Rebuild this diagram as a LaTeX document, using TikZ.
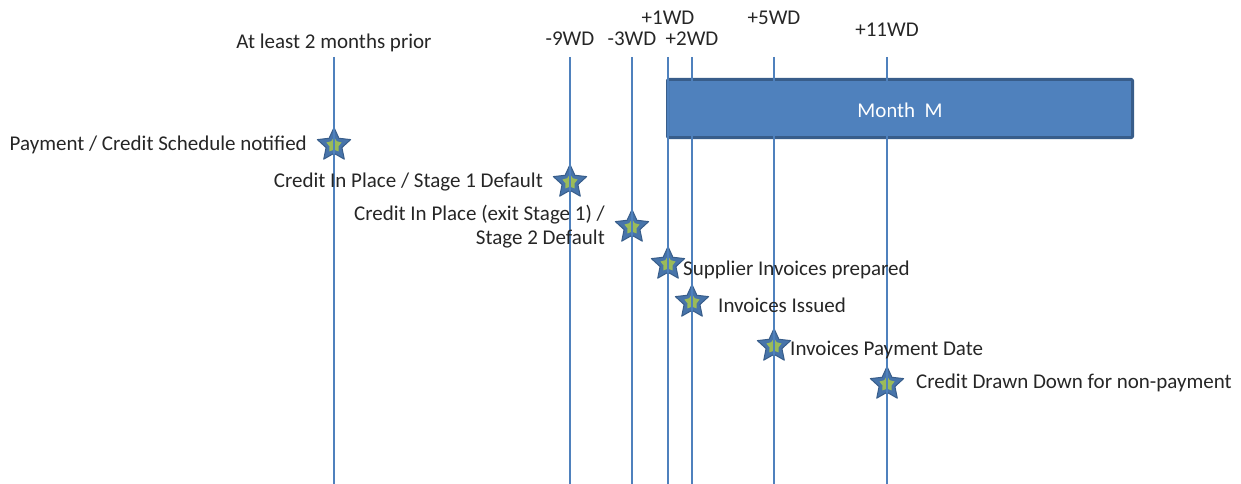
\documentclass[tikz,border=0pt]{standalone}
\usepackage{fontspec}
\setmainfont{Carlito}
\usetikzlibrary{shapes.geometric}
\definecolor{lineblue}{HTML}{4F81BD}
\definecolor{darkblue}{HTML}{385D8A}
\definecolor{stargreen}{HTML}{9BBB59}
\tikzset{
	vline/.style={lineblue,line width=1.6pt},
	wdlabel/.style={font=\fontsize{21}{24}\selectfont,text=black!85,inner sep=0pt},
	evlabel/.style={font=\fontsize{21}{24}\selectfont,text=black!85,inner sep=0pt,align=right},
	evstar/.style={star,star points=5,star point ratio=2.1,minimum size=35pt,inner sep=0pt,fill=lineblue!90!black,draw=darkblue,line width=1pt},
	evcore/.style={star,star points=5,star point ratio=1.7,minimum size=16pt,inner sep=0pt,fill=stargreen}
}
\begin{document}
\begin{tikzpicture}[x=1pt,y=-1pt,line join=round]
	\useasboundingbox (0,0) rectangle (1241,484);
	%Tháng M
	\node[fill=lineblue,draw=darkblue,line width=3pt,rounded corners=1pt,minimum width=465pt,minimum height=58pt,inner sep=0pt,text height=18.6pt,text depth=0pt,text=white,font=\fontsize{21}{24}\selectfont] (month) at (900,108.5) {Month~~M};
	%Các mốc thời gian
	\path (334,57) coordinate (T1) (334,484) coordinate (B1)
	(570,57) coordinate (T2) (570,484) coordinate (B2)
	(632,57) coordinate (T3) (632,484) coordinate (B3)
	(668,57) coordinate (T4) (668,484) coordinate (B4)
	(692,57) coordinate (T5) (692,484) coordinate (B5)
	(774,57) coordinate (T6) (774,484) coordinate (B6)
	(887,57) coordinate (T7) (887,484) coordinate (B7);
	\draw[vline] (T1)--(B1);
	\draw[vline] (T2)--(B2);
	\draw[vline] (T3)--(B3);
	\draw[vline] (T4)--(B4);
	\draw[vline] (T5)--(B5);
	\draw[vline] (T6)--(B6);
	\draw[vline] (T7)--(B7);
	\node[wdlabel] (L1) at (334,43) {At least 2 months prior};
	\node[wdlabel] (L2) at (570,39) {-9WD};
	\node[wdlabel] (L3) at (632,39) {-3WD};
	\node[wdlabel] (L4) at (668,18) {+1WD};
	\node[wdlabel] (L5) at (692,39) {+2WD};
	\node[wdlabel] (L6) at (774,18) {+5WD};
	\node[wdlabel] (L7) at (887,30) {+11WD};
	%Các sự kiện
	\node[evstar] (S1) at (334,145) {};
	\node[evstar] (S2) at (570,182) {};
	\node[evstar] (S3) at (632,227) {};
	\node[evstar] (S4) at (668,264) {};
	\node[evstar] (S5) at (692,302) {};
	\node[evstar] (S6) at (774,346) {};
	\node[evstar] (S7) at (887,384) {};
	\node[evcore] at (S1) {};
	\node[evcore] at (S2) {};
	\node[evcore] at (S3) {};
	\node[evcore] at (S4) {};
	\node[evcore] at (S5) {};
	\node[evcore] at (S6) {};
	\node[evcore] at (S7) {};
	\draw[lineblue,line width=1.6pt] (S1.north)--(S1.south) (S2.north)--(S2.south) (S3.north)--(S3.south) (S4.north)--(S4.south) (S5.north)--(S5.south) (S6.north)--(S6.south) (S7.north)--(S7.south);
	\node[evlabel,anchor=east] (E1) at (307,145) {Payment / Credit Schedule notified};
	\node[evlabel,anchor=east] (E2) at (543,182) {Credit In Place / Stage 1 Default};
	\node[evlabel,anchor=east] (E3) at (605,227) {Credit In Place (exit Stage 1) /\\Stage 2 Default};
	\node[evlabel,anchor=west] (E4) at (683,270) {Supplier Invoices prepared};
	\node[evlabel,anchor=west] (E5) at (718,305) {Invoices Issued};
	\node[evlabel,anchor=west] (E6) at (790,350) {Invoices Payment Date};
	\node[evlabel,anchor=west] (E7) at (916,383) {Credit Drawn Down for non-payment};
\end{tikzpicture}
\end{document}
